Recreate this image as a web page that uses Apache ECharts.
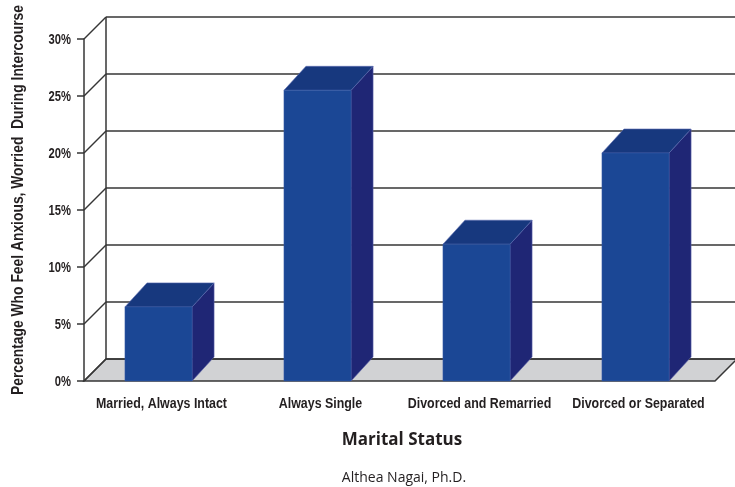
<!DOCTYPE html>
<html>
<head>
<meta charset="utf-8">
<script src="https://cdn.jsdelivr.net/npm/echarts@6/dist/echarts.min.js"></script>
<style>
html,body{margin:0;padding:0;background:#fff;}
#chart{width:735px;height:487px;}
</style>
</head>
<body>
<div id="chart"></div>
<script>
const categories = ['Married, Always Intact', 'Always Single', 'Divorced and Remarried', 'Divorced or Separated'];
const values = [6.5, 25.5, 12, 20];
const yTicks = [0, 5, 10, 15, 20, 25, 30];
const yAxisTitle = 'Percentage Who Feel Anxious, Worried  During Intercourse';
const xAxisTitle = 'Marital Status';
const credit = 'Althea Nagai, Ph.D.';

const BOLD_FONT = "bold 15.5px 'Liberation Sans', Arial, sans-serif";
const TICK_FONT = "bold 14px 'Liberation Sans', Arial, sans-serif";
const YTITLE_FONT = "bold 17px 'Liberation Sans', Arial, sans-serif";
const TEXT_COLOR = '#231f20';
const WALL_DX = 22, WALL_DY = 22;
const BAR_DX = 22, BAR_DY = 24;
const LINE = '#363636';

// condensing factors so the sans text matches the narrow face of the original
const ctx = document.createElement('canvas').getContext('2d');
function measure(font, text) { ctx.font = font; return ctx.measureText(text).width; }
const NARROW = 131 / measure(BOLD_FONT, categories[0]);
const YT_SCALE = 390 / measure(YTITLE_FONT, yAxisTitle);

const chart = echarts.init(document.getElementById('chart'), null, {renderer: 'canvas'});

function decorRender(params, api) {
  const cs = params.coordSys;
  const left = cs.x, right = cs.x + cs.width;
  const children = [];
  const y0 = api.coord([0, 0])[1];
  children.push({
    type: 'polygon',
    shape: {points: [[left, y0], [right - 5, y0], [right - 5 + WALL_DX, y0 - WALL_DY], [left + WALL_DX, y0 - WALL_DY]]},
    style: {fill: '#d1d2d4', stroke: LINE, lineWidth: 1.5}
  });
  yTicks.forEach(function (t) {
    const y = api.coord([0, t])[1];
    children.push({
      type: 'line',
      shape: {x1: left, y1: y, x2: left + WALL_DX, y2: y - WALL_DY},
      style: {stroke: LINE, lineWidth: 1.5}
    });
    children.push({
      type: 'line',
      shape: {x1: left + WALL_DX, y1: y - WALL_DY, x2: api.getWidth() + 5, y2: y - WALL_DY},
      style: {stroke: LINE, lineWidth: 1.5}
    });
    children.push({
      type: 'text',
      x: left - 13, y: y + 1, scaleX: NARROW,
      style: {text: t + '%', font: TICK_FONT, fill: TEXT_COLOR, align: 'right', verticalAlign: 'middle'}
    });
  });
  const yTop = api.coord([0, yTicks[yTicks.length - 1]])[1];
  children.push({
    type: 'line',
    shape: {x1: left + WALL_DX, y1: y0 - WALL_DY, x2: left + WALL_DX, y2: yTop - WALL_DY},
    style: {stroke: LINE, lineWidth: 1.5}
  });
  return {type: 'group', children: children};
}

function barRender(params, api) {
  const idx = api.value(0);
  const top = api.coord([idx, api.value(1)]);
  const base = api.coord([idx, 0]);
  const band = api.size([1, 0])[0];
  const w = band * 0.422;
  const x1 = top[0] - 5 - w / 2, x2 = x1 + w;
  const yt = top[1], yb = base[1];
  return {
    type: 'group',
    children: [
      {type: 'polygon', shape: {points: [[x2, yb], [x2 + BAR_DX, yb - BAR_DY], [x2 + BAR_DX, yt - BAR_DY], [x2, yt]]},
        style: {fill: '#1f2675', stroke: '#5a62a8', lineWidth: 0.6}},
      {type: 'polygon', shape: {points: [[x1, yt], [x2, yt], [x2 + BAR_DX, yt - BAR_DY], [x1 + BAR_DX, yt - BAR_DY]]},
        style: {fill: '#17387e', stroke: '#5a6ab0', lineWidth: 0.6}},
      {type: 'rect', shape: {x: x1, y: yt, width: w, height: yb - yt},
        style: {fill: '#1b4795', stroke: '#3b5fa8', lineWidth: 0.5}},
      {type: 'text', x: base[0] - 2, y: yb + 23, scaleX: NARROW,
        style: {text: categories[idx], font: BOLD_FONT, fill: TEXT_COLOR, align: 'center', verticalAlign: 'middle'}}
    ]
  };
}

const option = {
  animation: false,
  backgroundColor: '#ffffff',
  grid: {left: 84, right: 15, top: 39, bottom: 106, containLabel: false, outerBoundsMode: 'none'},
  xAxis: {
    type: 'category',
    data: categories,
    axisLine: {show: false},
    axisTick: {show: false},
    axisLabel: {show: false},
    splitLine: {show: false}
  },
  yAxis: {
    type: 'value',
    min: 0, max: 30, interval: 5,
    axisLine: {show: true, lineStyle: {color: LINE, width: 1.5}},
    axisTick: {show: true, length: 7, lineStyle: {color: LINE, width: 1.5}},
    axisLabel: {show: false},
    splitLine: {show: false}
  },
  graphic: [
    {type: 'text', x: 18, y: 200, rotation: Math.PI / 2, scaleX: YT_SCALE,
      style: {text: yAxisTitle, font: YTITLE_FONT, fill: TEXT_COLOR, align: 'center', verticalAlign: 'middle'}},
    {type: 'text', x: 402, y: 440, style: {text: xAxisTitle, font: "bold 17px 'Open Sans', 'Liberation Sans', sans-serif", fill: TEXT_COLOR, align: 'center', verticalAlign: 'middle'}},
    {type: 'text', x: 404, y: 478, style: {text: credit, font: "14px 'Open Sans', 'Liberation Sans', sans-serif", fill: TEXT_COLOR, align: 'center', verticalAlign: 'middle'}}
  ],
  series: [
    {type: 'custom', renderItem: decorRender, data: [[0, 0]], z: 1, silent: true},
    {type: 'custom', renderItem: barRender, data: values.map(function (v, i) { return [i, v]; }), z: 2}
  ]
};
chart.setOption(option);
</script>
</body>
</html>
